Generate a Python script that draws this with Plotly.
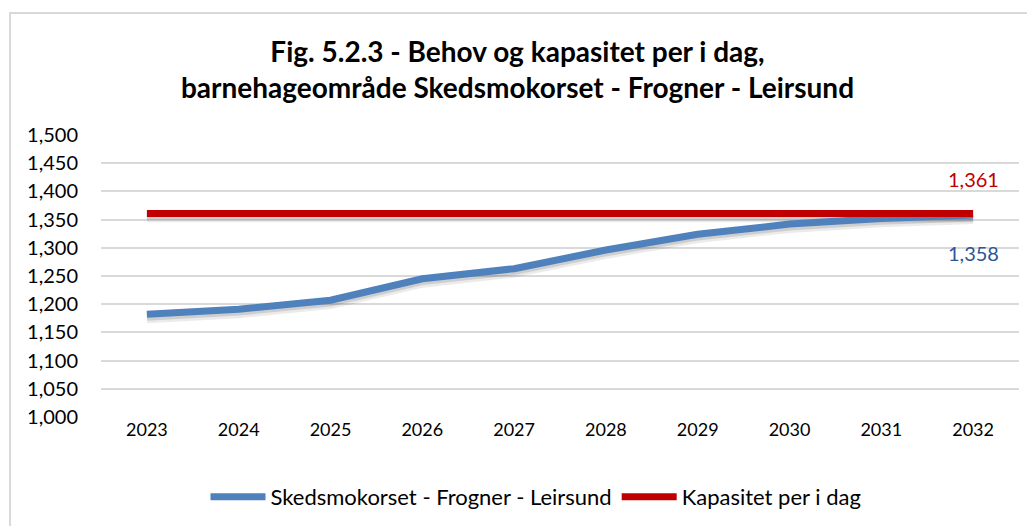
import plotly.graph_objects as go

years = ["2023", "2024", "2025", "2026", "2027", "2028", "2029", "2030", "2031", "2032"]
behov = [1182, 1191, 1207, 1245, 1263, 1296, 1324, 1342, 1352, 1358]
kapasitet = [1361, 1361, 1361, 1361, 1361, 1361, 1361, 1361, 1361, 1361]
y_ticks = [1000, 1050, 1100, 1150, 1200, 1250, 1300, 1350, 1400, 1450, 1500]

name_b = "Skedsmokorset - Frogner - Leirsund"
name_k = "Kapasitet per i dag"
blue = "#4F81BD"
red = "#C00000"
FONT = "Lato"

# page body has an 8px margin; work in figure coordinates (window - 8)
OFF = 8
W, H = 1035 - 2 * OFF, 526 - OFF
L, T = 101 - OFF, 135 - OFF
R = W - (1019 - OFF)
B = H - (417 - OFF)
pw, ph = W - L - R, H - T - B

def px_x(p):
    return (p - OFF - L) / pw

def px_y(p):
    return (H - B - (p - OFF)) / ph

fig = go.Figure()
# soft shadows under the lines
for vals in (behov, kapasitet):
    fig.add_trace(go.Scatter(x=years, y=[v - 6 for v in vals], mode="lines",
                             line=dict(color="rgba(0,0,0,0.08)", width=11),
                             showlegend=False, hoverinfo="skip"))
    fig.add_trace(go.Scatter(x=years, y=[v - 5 for v in vals], mode="lines",
                             line=dict(color="rgba(0,0,0,0.12)", width=7),
                             showlegend=False, hoverinfo="skip"))
fig.add_trace(go.Scatter(x=years, y=behov, mode="lines", name=name_b,
                         line=dict(color=blue, width=7)))
fig.add_trace(go.Scatter(x=years, y=kapasitet, mode="lines", name=name_k,
                         line=dict(color=red, width=7)))

last = len(years) - 1
fig.add_annotation(x=last, y=kapasitet[-1], text=f"{kapasitet[-1]:,}",
                   showarrow=False, yshift=34, font=dict(family=FONT, size=20, color=red))
fig.add_annotation(x=last, y=behov[-1], text=f"{behov[-1]:,}",
                   showarrow=False, yshift=-38, font=dict(family=FONT, size=20, color="#2F5597"))

fig.update_layout(
    width=W, height=H,
    margin=dict(l=L, r=R, t=T, b=B),
    paper_bgcolor="white", plot_bgcolor="white",
    font=dict(family=FONT, color="#000000"),
    title=dict(text="<b>Fig. 5.2.3 - Behov og kapasitet per i dag,<br>barnehageområde Skedsmokorset - Frogner - Leirsund</b>",
               x=0.5, xanchor="center", xref="container", y=1 - 54 / H, yanchor="middle",
               font=dict(family=FONT, size=28, color="#000000")),
    xaxis=dict(type="category", showgrid=False, showline=False, ticks="",
               tickfont=dict(family=FONT, size=18, color="#000000"), range=[-0.5, 9.5]),
    yaxis=dict(range=[1000, 1500], tickvals=y_ticks, tickformat=",",
               showgrid=True, gridcolor="#D9D9D9", gridwidth=1.5, zeroline=False,
               showline=False, ticks="", ticklabelstandoff=22,
               tickfont=dict(family=FONT, size=20, color="#000000")),
    legend=dict(orientation="h", x=px_x(536), xanchor="center", y=px_y(497), yanchor="middle",
                font=dict(family=FONT, size=22, color="#000000"),
                itemwidth=55, traceorder="normal"),
    showlegend=True,
    shapes=[dict(type="rect", xref="paper", yref="paper",
                 x0=px_x(10), x1=px_x(1060), y0=px_y(560), y1=px_y(13),
                 line=dict(color="#D9D9D9", width=2), fillcolor="rgba(0,0,0,0)", layer="below")],
)

fig.write_html("out.html")
